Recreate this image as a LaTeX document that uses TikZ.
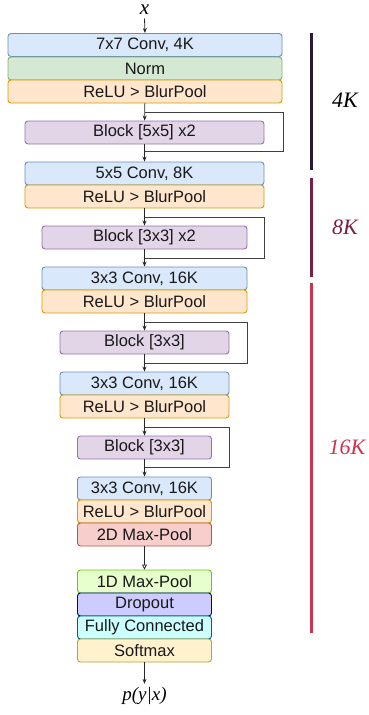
\documentclass[tikz,border=0pt]{standalone}
\usepackage{fontspec}
\setmainfont{Liberation Sans}
\newfontfamily\serifit{Liberation Serif}
\usetikzlibrary{arrows.meta,calc}
\definecolor{bluef}{HTML}{DAE8FC}\definecolor{blued}{HTML}{6C8EBF}
\definecolor{greenf}{HTML}{D5E8D4}\definecolor{greend}{HTML}{82B366}
\definecolor{orangef}{HTML}{FFE6CC}\definecolor{oranged}{HTML}{D79B00}
\definecolor{purplef}{HTML}{E1D5E7}\definecolor{purpled}{HTML}{9673A6}
\definecolor{redf}{HTML}{F8CECC}\definecolor{redd}{HTML}{B85450}
\definecolor{limef}{HTML}{E6FFCC}\definecolor{limed}{HTML}{66CC00}
\definecolor{dropf}{HTML}{CCCCFF}\definecolor{dropd}{HTML}{000099}
\definecolor{fcf}{HTML}{CCFFFF}\definecolor{fcd}{HTML}{006666}
\definecolor{softf}{HTML}{FFF2CC}\definecolor{softd}{HTML}{B5A33A}
\definecolor{barA}{HTML}{2B1B35}\definecolor{barB}{HTML}{7B1F45}\definecolor{barC}{HTML}{C9344F}
\tikzset{
  x=1pt,y=-1pt,
  layer/.style={draw, rounded corners=3pt, line width=0.9pt, minimum height=23pt, inner sep=0pt,
    font=\fontsize{16.5}{17}\selectfont, text=black!90},
  conv/.style={layer, fill=bluef, draw=blued},
  normb/.style={layer, fill=greenf, draw=greend},
  relu/.style={layer, fill=orangef, draw=oranged},
  blockb/.style={layer, fill=purplef, draw=purpled},
  poolb/.style={layer, fill=redf, draw=redd},
  pool1b/.style={layer, fill=limef, draw=limed},
  dropb/.style={layer, fill=dropf, draw=dropd},
  fcb/.style={layer, fill=fcf, draw=fcd},
  softb/.style={layer, fill=softf, draw=softd},
  arr/.style={-{Stealth[length=5pt,width=4pt]}, line width=0.8pt, black!85},
  openarr/.style={-{Triangle[open,length=5pt,width=5pt]}, line width=0.8pt, black!85},
  skipl/.style={line width=0.9pt, black!75},
  bar/.style={line width=3pt},
  lbl/.style={font=\serifit\itshape\fontsize{22}{22}\selectfont},
}
\begin{document}
\begin{tikzpicture}
\useasboundingbox (0,0) rectangle (368,715);
% column
\node[conv,  minimum width=274pt] (c1) at (145,45) {7x7 Conv, 4K};
\node[normb, minimum width=274pt] (n1) at (145,68.5) {Norm};
\node[relu,  minimum width=274pt] (r1) at (145,91.5) {ReLU > BlurPool};
\node[blockb, minimum width=239pt] (b1) at (144.5,132.5) {Block [5x5] x2};
\node[conv,  minimum width=239pt] (c2) at (144.5,173.5) {5x5 Conv, 8K};
\node[relu,  minimum width=239pt] (r2) at (144.5,196.5) {ReLU > BlurPool};
\node[blockb, minimum width=205pt] (b2) at (144.5,237.5) {Block [3x3] x2};
\node[conv,  minimum width=205pt] (c3) at (144.5,278.5) {3x3 Conv, 16K};
\node[relu,  minimum width=205pt] (r3) at (144.5,301.5) {ReLU > BlurPool};
\node[blockb, minimum width=169pt] (b3) at (144.5,342.5) {Block [3x3]};
\node[conv,  minimum width=169pt] (c4) at (144.5,383.5) {3x3 Conv, 16K};
\node[relu,  minimum width=169pt] (r4) at (144.5,406.5) {ReLU > BlurPool};
\node[blockb, minimum width=134pt] (b4) at (144.5,447.5) {Block [3x3]};
\node[conv,  minimum width=134pt] (c5) at (144.5,488.5) {3x3 Conv, 16K};
\node[relu,  minimum width=134pt] (r5) at (144.5,511.5) {ReLU > BlurPool};
\node[poolb, minimum width=134pt] (p2) at (144.5,534.5) {2D Max-Pool};
\node[pool1b, minimum width=134pt] (p1) at (144.5,581.5) {1D Max-Pool};
\node[dropb, minimum width=134pt] (dr) at (144.5,604.5) {Dropout};
\node[fcb,   minimum width=134pt] (fc) at (144.5,627.5) {Fully Connected};
\node[softb, minimum width=134pt] (sm) at (144.5,650.5) {Softmax};
% input / output
\node[lbl, font=\serifit\itshape\fontsize{21}{21}\selectfont, inner sep=0pt, anchor=base] (xin) at (144.5,14.5) {x};
\coordinate (xend) at (144.5,18.5);
\node[lbl, font=\serifit\itshape\fontsize{19}{20}\selectfont] (out) at (144.5,696) {p(y|x)};
\draw[arr] (xend) -- (c1.north);
\draw[arr] (sm.south) -- (out.north);
% main flow arrows
\draw[arr] (r1) -- (b1);
\draw[arr] (b1) -- (c2);
\draw[arr] (r2) -- (b2);
\draw[arr] (b2) -- (c3);
\draw[arr] (r3) -- (b3);
\draw[arr] (b3) -- (c4);
\draw[arr] (r4) -- (b4);
\draw[arr] (b4) -- (c5);
\draw[openarr] (p2) -- (p1);
% skip connections
\coordinate (s1a) at (144.5,112); \coordinate (s1b) at (144.5,151);
\coordinate (s2a) at (144.5,217); \coordinate (s2b) at (144.5,258);
\coordinate (s3a) at (144.5,322); \coordinate (s3b) at (144.5,363);
\coordinate (s4a) at (144.5,427); \coordinate (s4b) at (144.5,467);
\draw[skipl] (s1a) -- ([xshift=0.5pt]s1a -| r1.east) |- (s1b);
\draw[skipl] (s2a) -- (s2a -| r2.east) |- (s2b);
\draw[skipl] (s3a) -- (s3a -| r3.east) |- (s3b);
\draw[skipl] (s4a) -- (s4a -| r4.east) |- (s4b);
% bars
\coordinate (A1) at (311,33); \coordinate (A2) at (311,170);
\coordinate (B1) at (311,178); \coordinate (B2) at (311,277);
\coordinate (C1) at (311,283); \coordinate (C2) at (311,633);
\draw[bar, barA] (A1) -- (A2);
\draw[bar, barB] (B1) -- (B2);
\draw[bar, barC] (C1) -- (C2);
\node[lbl, text=black] (l4) at (345,100) {4K};
\node[lbl, text=barB] (l8) at (345,227) {8K};
\node[lbl, text=barC] (l16) at (347,447) {16K};
\end{tikzpicture}
\end{document}
